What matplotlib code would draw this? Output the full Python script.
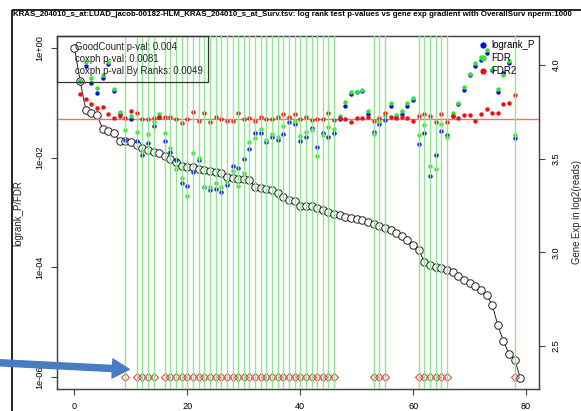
import numpy as np
import matplotlib.pyplot as plt
from matplotlib.lines import Line2D
from matplotlib.patches import Rectangle, FancyArrowPatch
from matplotlib.ticker import FixedLocator, NullLocator

plt.rcParams['font.family'] = ['Liberation Sans', 'DejaVu Sans']

nan = np.nan
rank = np.arange(80)

# gene expression per sample, sorted (right axis)
gene_exp = [4.091, 3.915, 3.760, 3.744, 3.733, 3.658, 3.648, 3.637, 3.594, 3.594,
            3.589, 3.573, 3.557, 3.546, 3.536, 3.530, 3.514, 3.498, 3.482, 3.461,
            3.455, 3.455, 3.445, 3.439, 3.434, 3.429, 3.423, 3.402, 3.397, 3.391,
            3.391, 3.386, 3.349, 3.343, 3.338, 3.333, 3.317, 3.295, 3.279, 3.274,
            3.247, 3.247, 3.247, 3.237, 3.226, 3.215, 3.204, 3.199, 3.188, 3.183,
            3.178, 3.172, 3.162, 3.151, 3.140, 3.130, 3.119, 3.103, 3.087, 3.066,
            3.039, 3.012, 2.948, 2.932, 2.922, 2.916, 2.906, 2.895, 2.873, 2.852,
            2.836, 2.820, 2.799, 2.772, 2.719, 2.612, 2.526, 2.457, 2.425, 2.329]

logrank_p = [nan, 0.25, 0.47, 0.23, 0.151, 0.284, 0.51, 0.164, 0.0625, 0.0209,
             0.0506, 0.0201, 0.0112, 0.0185, 0.0377, 0.0551, 0.0201, 0.0127, 0.00904, 0.00344,
             0.00303, 0.00546, 0.00904, 0.00291, 0.00256, 0.00267, 0.00236, 0.00316, 0.00703, 0.00646,
             0.00942, 0.0144, 0.0281, 0.0281, 0.0193, 0.0238, 0.0209, 0.027, 0.0446, 0.041,
             0.0201, 0.0238, 0.0347, 0.0156, 0.0281, 0.0238, 0.0281, 0.0506, 0.0874, 0.145,
             0.157, 0.164, 0.0625, 0.0293, 0.041, 0.0485, 0.0874, 0.0551, 0.0625, 0.0874,
             0.112, 0.0177, 0.0281, 0.00461, 0.0112, 0.0306, 0.0258, 0.0574, 0.095, 0.171,
             0.32, 0.47, 0.60, 0.81, 0.397, 0.157, 0.35, 0.532, 0.0228, nan]

fdr = [nan, 0.25, 0.556, 0.284, 0.186, 0.32, 0.556, 0.179, 0.068, 0.0319,
       0.0574, 0.0293, 0.0132, 0.027, 0.0446, 0.0625, 0.0281, 0.015, 0.0062, 0.00424,
       0.00199, 0.0121, 0.00984, 0.00291, 0.00291, 0.00344, 0.00291, 0.00359, 0.00569, 0.00303,
       0.00523, 0.0193, 0.0228, 0.0333, 0.0209, 0.027, 0.0238, 0.0377, 0.0528, 0.0465,
       0.0248, 0.0293, 0.0319, 0.0107, 0.0258, 0.0362, 0.0333, 0.0574, 0.103, 0.157,
       0.157, 0.171, 0.0709, 0.027, 0.0465, 0.0574, 0.099, 0.0599, 0.0709, 0.099,
       0.122, 0.0258, 0.0393, 0.00703, 0.0062, 0.041, 0.0238, 0.0651, 0.099, 0.194,
       0.336, 0.532, 0.685, 0.92, 0.414, 0.179, 0.32, 0.58, 0.0258, nan]

fdr2 = [nan, 0.145, 0.117, 0.095, 0.0804, 0.0838, 0.0625, 0.0528, 0.0574, 0.0528,
        0.0709, 0.0651, 0.0506, 0.0506, 0.0528, 0.0551, 0.0551, 0.0551, 0.0506, 0.0428,
        0.0506, 0.068, 0.0465, 0.0651, 0.0446, 0.0551, 0.0506, 0.0465, 0.0465, 0.0651,
        0.0506, 0.0528, 0.0465, 0.0551, 0.0506, 0.0506, 0.0551, 0.0625, 0.0551, 0.0625,
        0.0506, 0.0551, 0.0485, 0.0506, 0.0506, 0.0651, 0.0485, 0.0528, 0.0506, 0.0446,
        0.0528, 0.0528, 0.0551, 0.0465, 0.0528, 0.0651, 0.0551, 0.0528, 0.0551, 0.0528,
        0.0465, 0.0574, 0.0625, 0.0574, 0.0446, 0.0625, 0.0446, 0.0574, 0.0528, 0.0599,
        0.0599, 0.0465, 0.0625, 0.077, 0.0651, 0.0651, 0.095, 0.099, 0.139, nan]

# cut points that pass (marked with green lines and diamonds)
good_cuts = [9, 11, 12, 13, 14, 16, 17, 18, 19, 20, 21, 22, 23, 24, 25, 26, 27, 28,
             29, 30, 31, 32, 33, 34, 35, 36, 37, 38, 39, 40, 41, 42, 43, 44, 45, 46,
             53, 54, 55, 61, 62, 63, 64, 65, 66, 78]
cut_marker_p = 1e-6
p_cutoff = 0.05

stats_lines = ["GoodCount p-val: 0.004",
               "coxph p-val: 0.0081",
               "coxph p-val By Ranks: 0.0049"]
title = ("KRAS_204010_s_at:LUAD_jacob-00182-HLM_KRAS_204010_s_at_Surv.tsv: "
         "log rank test p-values vs gene exp gradient with OverallSurv nperm:1000")

W, H = 581, 411
fig = plt.figure(figsize=(W / 100, H / 100), dpi=100)
ax_e = fig.add_axes([57 / W, (H - 389) / H, 482 / W, 353 / H])
ax_p = ax_e.twinx()

frame_col = '#444444'
tick_kw = dict(direction='out', length=4.3, width=0.8, color=frame_col,
               labelsize=6.6, pad=5)

# gene expression curve on the right-hand scale
ax_e.plot(rank, gene_exp, color='#222222', lw=0.7, marker='o', ms=5.4,
          mfc='white', mec='#222222', mew=0.7)
ax_e.set_xlim(-3.1, 82.3)
ax_e.set_ylim(2.270, 4.155)
ax_e.yaxis.tick_right()
ax_e.yaxis.set_label_position('right')
ax_e.set_xticks([0, 20, 40, 60, 80])
ax_e.set_yticks([2.5, 3.0, 3.5, 4.0])
ax_e.set_yticklabels(['2.5', '3.0', '3.5', '4.0'], rotation=90, va='center')
ax_e.tick_params(axis='both', **tick_kw)

# p-values on the left log scale
ax_p.yaxis.tick_left()
ax_p.yaxis.set_label_position('left')
ax_p.set_yscale('log')
ax_p.set_ylim(6.04e-7, 1.656)
ax_p.yaxis.set_major_locator(FixedLocator([1e0, 1e-2, 1e-4, 1e-6]))
ax_p.yaxis.set_minor_locator(NullLocator())
ax_p.set_yticklabels(['1e+00', '1e-02', '1e-04', '1e-06'], rotation=90, va='center')
ax_p.tick_params(axis='y', **tick_kw)

ax_p.plot(rank, logrank_p, 'o', color='#0a10e0', ms=3.2, mew=0, zorder=3)
ax_p.plot(rank, fdr, 'o', color='#2ee62e', ms=3.2, mew=0, zorder=3)
ax_p.plot(rank, fdr2, 'o', color='#f01010', ms=3.2, mew=0, zorder=3)
ax_p.axhline(p_cutoff, color='#f07070', lw=1.0, zorder=2)
ax_p.plot(good_cuts, [cut_marker_p] * len(good_cuts), 'D', mfc='none',
          mec='#cc5555', ms=3.8, mew=0.8, zorder=4)
for c in good_cuts:
    ax_p.axvline(c, color='#8fe88f', lw=1.0, zorder=5)

for ax in (ax_e, ax_p):
    for sp in ax.spines.values():
        sp.set_color(frame_col)
        sp.set_linewidth(0.9)

# stats box, top left
ax_p.add_patch(Rectangle((0, 0.870), 0.313, 0.130, transform=ax_p.transAxes,
                         fill=False, ec='#333333', lw=0.9, zorder=6, clip_on=False))
for i, s in enumerate(stats_lines):
    ax_p.text(0.037, 0.968 - i * 0.033, s, transform=ax_p.transAxes, fontsize=6.9,
              va='center', ha='left', color='#222222', zorder=6)

handles = [Line2D([], [], ls='none', marker='o', ms=4.5, color=c, mew=0)
           for c in ('#0a10e0', '#2ee62e', '#f01010')]
leg = ax_p.legend(handles, ['logrank_P', 'FDR', 'FDR2'], loc='upper right',
                  borderaxespad=0, fontsize=6.9, fancybox=False, framealpha=0,
                  edgecolor='#333333', handlelength=1.0, handletextpad=0.4,
                  labelspacing=0.3, borderpad=0.45)
leg.get_frame().set_linewidth(0.9)
leg.set_zorder(6)

fig.text(18.5 / W, 1 - 213 / H, 'logrank_P/FDR', rotation=90, fontsize=6.9,
         ha='center', va='center', color='#222222')
fig.text(577 / W, 1 - 212 / H, 'Gene Exp in log2(reads)', rotation=90, fontsize=6.9,
         ha='center', va='center', color='#222222')
fig.text(13 / W, 1 - 14.5 / H, title, fontsize=5.68, fontweight='bold',
         ha='left', va='center')

# window frame lines
fig.add_artist(Line2D([12 / W, 1.02], [1 - 10 / H] * 2, color='black', lw=1.2,
                      solid_capstyle='butt'))
fig.add_artist(Line2D([12 / W] * 2, [-0.02, 1 - 10 / H], color='black', lw=1.2,
                      solid_capstyle='butt'))

# pointer arrow
arrow = FancyArrowPatch((-0.01, 1 - 362.5 / H), (132 / W, 1 - 369.5 / H),
                        transform=fig.transFigure,
                        arrowstyle='simple,head_length=1.1,head_width=1.25,tail_width=0.4',
                        mutation_scale=11, color='#4a7cc4', zorder=10)
fig.add_artist(arrow)

fig.savefig('out.png', dpi=100)
